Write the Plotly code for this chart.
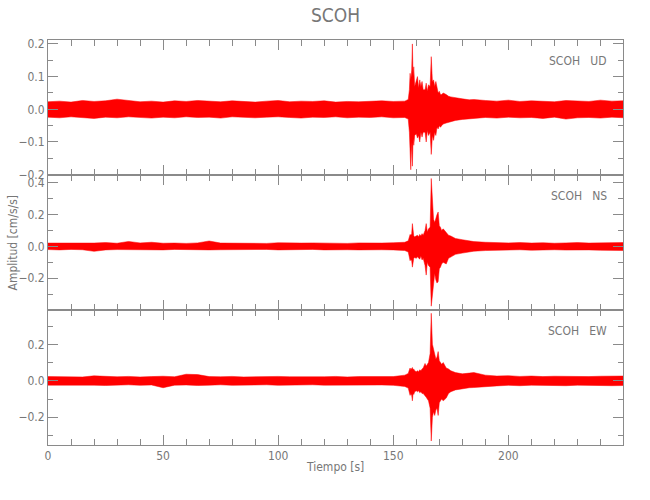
import plotly.graph_objects as go
from plotly.subplots import make_subplots

# time nodes (s) shared by the three components
T = [0, 5, 10, 15, 20, 25, 30, 35, 40, 45, 50, 55, 60, 65, 70, 75, 80, 85, 90, 95,
     100, 105, 110, 115, 120, 125, 130, 135, 140, 145, 150, 155,
     156.5, 157, 157.3, 157.6, 158, 158.3, 158.6, 158.9, 159.3, 160, 160.5, 161, 161.5, 162,
     162.5, 163, 163.8, 164.3, 164.8, 165.3, 166, 166.5, 167, 167.5, 168, 168.5, 169, 169.5,
     170, 170.5, 171, 171.7, 173, 174, 175, 177, 180, 183, 185,
     190, 195, 200, 205, 210, 215, 220, 225, 230, 235, 240, 245, 250]

# upper / lower envelopes of the traces (cm/s/s)
UD_hi = [0.023, 0.025, 0.022, 0.027, 0.024, 0.026, 0.031, 0.028, 0.023, 0.025, 0.022, 0.026,
         0.024, 0.027, 0.025, 0.023, 0.026, 0.024, 0.022, 0.025, 0.027, 0.023, 0.025, 0.024,
         0.026, 0.022, 0.024, 0.023, 0.025, 0.026, 0.024, 0.025,
         0.03, 0.06, 0.11, 0.09, 0.12, 0.20, 0.10, 0.13, 0.07, 0.085, 0.10, 0.065, 0.09, 0.07,
         0.085, 0.06, 0.06, 0.08, 0.055, 0.075, 0.07, 0.161, 0.085, 0.09, 0.07, 0.085, 0.06, 0.05,
         0.055, 0.045, 0.045, 0.05, 0.045, 0.04, 0.038, 0.035, 0.032, 0.029, 0.03,
         0.027, 0.025, 0.028, 0.024, 0.026, 0.025, 0.023, 0.027, 0.025, 0.024, 0.028, 0.025, 0.026]
UD_lo = [-0.024, -0.026, -0.023, -0.025, -0.028, -0.024, -0.026, -0.023, -0.025, -0.027, -0.024, -0.026,
         -0.023, -0.025, -0.024, -0.027, -0.023, -0.025, -0.026, -0.024, -0.023, -0.025, -0.027, -0.024,
         -0.025, -0.023, -0.026, -0.024, -0.025, -0.023, -0.026, -0.025,
         -0.03, -0.07, -0.12, -0.185, -0.10, -0.174, -0.09, -0.11, -0.08, -0.075, -0.088, -0.08, -0.10, -0.07,
         -0.085, -0.07, -0.07, -0.10, -0.065, -0.08, -0.07, -0.138, -0.08, -0.095, -0.07, -0.08, -0.055, -0.06,
         -0.05, -0.055, -0.05, -0.045, -0.042, -0.04, -0.036, -0.034, -0.031, -0.029, -0.029,
         -0.025, -0.027, -0.024, -0.026, -0.025, -0.028, -0.024, -0.030, -0.026, -0.025, -0.027, -0.024, -0.026]

NS_hi = [0.021, 0.020, 0.022, 0.019, 0.021, 0.024, 0.020, 0.031, 0.022, 0.026, 0.020, 0.021,
         0.019, 0.022, 0.034, 0.021, 0.020, 0.022, 0.021, 0.019, 0.023, 0.020, 0.021, 0.022,
         0.020, 0.021, 0.019, 0.022, 0.020, 0.021, 0.023, 0.026,
         0.035, 0.06, 0.075, 0.07, 0.08, 0.143, 0.07, 0.065, 0.06, 0.065, 0.07, 0.06, 0.075, 0.065,
         0.08, 0.07, 0.10, 0.143, 0.09, 0.11, 0.12, 0.426, 0.30, 0.17, 0.15, 0.18, 0.20, 0.216,
         0.13, 0.12, 0.10, 0.11, 0.09, 0.07, 0.065, 0.05, 0.042, 0.036, 0.03,
         0.026, 0.023, 0.022, 0.024, 0.021, 0.023, 0.020, 0.022, 0.024, 0.021, 0.023, 0.026, 0.024]
NS_lo = [-0.020, -0.022, -0.019, -0.021, -0.031, -0.022, -0.020, -0.021, -0.023, -0.020, -0.022, -0.019,
         -0.021, -0.020, -0.022, -0.021, -0.020, -0.023, -0.021, -0.019, -0.022, -0.020, -0.021, -0.019,
         -0.022, -0.020, -0.021, -0.022, -0.020, -0.021, -0.022, -0.026,
         -0.035, -0.06, -0.09, -0.08, -0.09, -0.13, -0.08, -0.075, -0.07, -0.075, -0.065, -0.07, -0.08, -0.06,
         -0.085, -0.075, -0.12, -0.18, -0.10, -0.12, -0.13, -0.375, -0.30, -0.20, -0.17, -0.21, -0.23, -0.22,
         -0.14, -0.13, -0.11, -0.10, -0.11, -0.075, -0.065, -0.05, -0.042, -0.036, -0.03,
         -0.026, -0.023, -0.022, -0.021, -0.024, -0.022, -0.021, -0.023, -0.021, -0.022, -0.024, -0.023, -0.026]

EW_hi = [0.023, 0.022, 0.024, 0.021, 0.027, 0.023, 0.022, 0.024, 0.021, 0.023, 0.025, 0.022,
         0.036, 0.034, 0.023, 0.022, 0.024, 0.021, 0.023, 0.022, 0.024, 0.022, 0.021, 0.023,
         0.022, 0.024, 0.021, 0.023, 0.022, 0.024, 0.023, 0.031,
         0.04, 0.06, 0.07, 0.06, 0.065, 0.073, 0.06, 0.065, 0.055, 0.05, 0.055, 0.05, 0.06, 0.055,
         0.065, 0.07, 0.095, 0.08, 0.09, 0.10, 0.15, 0.37, 0.20, 0.17, 0.14, 0.12, 0.13, 0.16,
         0.11, 0.10, 0.09, 0.10, 0.07, 0.065, 0.055, 0.045, 0.038, 0.042, 0.045,
         0.031, 0.026, 0.028, 0.024, 0.026, 0.023, 0.025, 0.024, 0.026, 0.023, 0.025, 0.024, 0.026]
EW_lo = [-0.024, -0.023, -0.025, -0.022, -0.024, -0.026, -0.023, -0.022, -0.025, -0.023, -0.038, -0.024,
         -0.023, -0.026, -0.024, -0.022, -0.025, -0.023, -0.024, -0.022, -0.025, -0.023, -0.024, -0.022,
         -0.024, -0.023, -0.025, -0.022, -0.024, -0.023, -0.025, -0.031,
         -0.04, -0.06, -0.08, -0.07, -0.08, -0.11, -0.07, -0.075, -0.06, -0.055, -0.06, -0.055, -0.065, -0.06,
         -0.07, -0.07, -0.08, -0.09, -0.10, -0.11, -0.15, -0.33, -0.20, -0.17, -0.19, -0.16, -0.15, -0.19,
         -0.12, -0.11, -0.10, -0.11, -0.095, -0.07, -0.06, -0.05, -0.042, -0.038, -0.037,
         -0.031, -0.028, -0.025, -0.027, -0.024, -0.026, -0.025, -0.027, -0.024, -0.026, -0.025, -0.027, -0.026]

labels = ["SCOH\u00a0\u00a0\u00a0UD", "SCOH\u00a0\u00a0\u00a0NS", "SCOH\u00a0\u00a0\u00a0EW"]
comps = [(UD_hi, UD_lo), (NS_hi, NS_lo), (EW_hi, EW_lo)]
yranges = [[-0.201, 0.212], [-0.399, 0.448], [-0.352, 0.388]]
ydticks = [0.1, 0.2, 0.2]
yminor = [0.05, 0.1, 0.1]

GREY = "#8a8a8a"
TXT = "#777777"
FONT = "Liberation Sans Narrow, DejaVu Sans Condensed, Arial Narrow, sans-serif"
RED = "#ff0000"

fig = make_subplots(rows=3, cols=1, shared_xaxes=True, vertical_spacing=0)

for i, (hi, lo) in enumerate(comps):
    r = i + 1
    fig.add_trace(go.Scatter(x=T, y=lo, mode="lines", line=dict(color=RED, width=0.5),
                             showlegend=False, hoverinfo="skip"), row=r, col=1)
    fig.add_trace(go.Scatter(x=T, y=hi, mode="lines", line=dict(color=RED, width=0.5),
                             fill="tonexty", fillcolor=RED,
                             showlegend=False, hoverinfo="skip"), row=r, col=1)
    fig.update_yaxes(range=yranges[i], dtick=ydticks[i], tick0=0, tickformat=".1f",
                     ticks="inside", ticklen=10, tickcolor=GREY, tickwidth=1,
                     minor=dict(ticks="inside", ticklen=5, dtick=yminor[i], tick0=0, tickcolor=GREY),
                     showline=True, linecolor=GREY, linewidth=1, mirror="allticks",
                     showgrid=False, zeroline=False,
                     tickfont=dict(family=FONT, size=12, color=TXT),
                     row=r, col=1)
    fig.add_annotation(text=labels[i], xref="x domain" if r == 1 else f"x{r} domain",
                       yref="y domain" if r == 1 else f"y{r} domain",
                       x=0.976, y=1 - 21 / 135, xanchor="right", yanchor="middle",
                       showarrow=False, font=dict(family=FONT, size=12, color=TXT))

fig.update_xaxes(range=[0, 249.8], dtick=50, tick0=0,
                 ticks="inside", ticklen=10, tickcolor=GREY, tickwidth=1,
                 minor=dict(ticks="inside", ticklen=6, dtick=10, tick0=0, tickcolor=GREY),
                 showline=True, linecolor=GREY, linewidth=1, mirror="allticks",
                 showgrid=False, zeroline=False,
                 tickfont=dict(family=FONT, size=12, color=TXT))

fig.add_annotation(text="SCOH", xref="paper", yref="paper", x=0.5, y=1 + 25 / 405,
                   xanchor="center", yanchor="middle", showarrow=False,
                   font=dict(family=FONT, size=19, color=TXT))
fig.add_annotation(text="Amplitud [cm/s/s]", xref="paper", yref="paper",
                   x=(12 - 48) / 575, y=0.5, textangle=-90,
                   xanchor="center", yanchor="middle", showarrow=False,
                   font=dict(family=FONT, size=12, color=TXT))
fig.add_annotation(text="Tiempo [s]", xref="paper", yref="paper",
                   x=(335 - 48) / 575, y=-(467 - 445) / 405,
                   xanchor="center", yanchor="middle", showarrow=False,
                   font=dict(family=FONT, size=12, color=TXT))

fig.update_layout(width=650, height=500, margin=dict(l=48, r=27, t=40, b=55),
                  plot_bgcolor="white", paper_bgcolor="white", showlegend=False)

# remove the default 8px page margin so the 650x500 figure fills the window
fig.write_html("out.html", config={"displayModeBar": False},
               post_script="document.body.style.margin='0';")
